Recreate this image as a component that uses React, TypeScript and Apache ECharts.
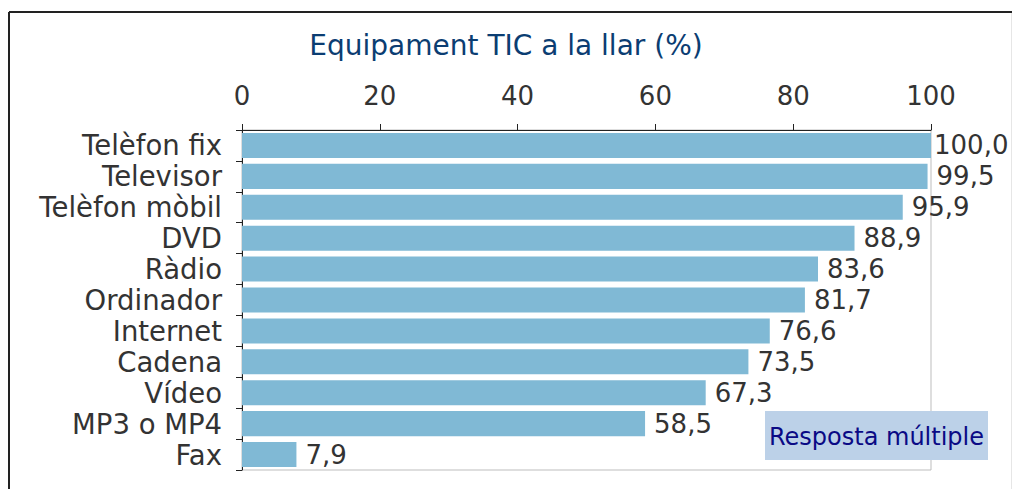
import React, { useEffect, useRef } from "react";
import * as echarts from "echarts";

const categories = [
  "Telèfon fix",
  "Televisor",
  "Telèfon mòbil",
  "DVD",
  "Ràdio",
  "Ordinador",
  "Internet",
  "Cadena",
  "Vídeo",
  "MP3 o MP4",
  "Fax",
];
const values = [100.0, 99.5, 95.9, 88.9, 83.6, 81.7, 76.6, 73.5, 67.3, 58.5, 7.9];
const titleText = "Equipament TIC a la llar (%)";
const noteText = "Resposta múltiple";

const FONT = "DejaVu Sans, Verdana, sans-serif";

export default function App() {
  const ref = useRef<HTMLDivElement>(null);
  useEffect(() => {
    document.body.style.margin = "0";
    if (!ref.current) return;
    const chart = echarts.init(ref.current, null, { renderer: "svg" });
    const barData = values.map((v) =>
      v >= 100 ? { value: v, label: { distance: 3 } } : { value: v }
    );
    chart.setOption({
      animation: false,
      backgroundColor: "#ffffff",
      title: {
        text: titleText,
        left: "center",
        top: 26,
        textStyle: { fontFamily: FONT, fontSize: 28, fontWeight: "normal", color: "#0b3d72" },
      },
      grid: {
        left: 242,
        right: 81,
        top: 130,
        bottom: 19,
        show: true,
        borderColor: "#bdbdbd",
        borderWidth: 1,
        backgroundColor: "transparent",
      },
      xAxis: {
        type: "value",
        position: "top",
        min: 0,
        max: 100,
        interval: 20,
        axisLine: { show: true, lineStyle: { color: "#222", width: 1 } },
        axisTick: { show: true, length: 6, lineStyle: { color: "#222" } },
        splitLine: { show: false },
        axisLabel: { fontFamily: FONT, fontSize: 26, color: "#333", margin: 21 },
      },
      yAxis: {
        type: "category",
        data: categories,
        inverse: true,
        axisLine: { show: true, lineStyle: { color: "#222", width: 1 } },
        axisTick: { show: true, length: 6, lineStyle: { color: "#222" } },
        axisLabel: { fontFamily: FONT, fontSize: 27.5, color: "#333", margin: 20, interval: 0 },
      },
      series: [
        {
          type: "bar",
          data: barData,
          barCategoryGap: "19%",
          itemStyle: { color: "#80b9d5" },
          label: {
            show: true,
            position: "right",
            distance: 9,
            fontFamily: FONT,
            fontSize: 26,
            color: "#333",
            formatter: (p: any) => Number(p.value).toFixed(1).replace(".", ","),
          },
        },
      ],
      graphic: [
        {
          type: "line",
          shape: { x1: 9, y1: 12, x2: 1012, y2: 12 },
          style: { stroke: "#222", lineWidth: 2 },
        },
        {
          type: "line",
          shape: { x1: 9, y1: 12, x2: 9, y2: 489 },
          style: { stroke: "#222", lineWidth: 2 },
        },
        {
          type: "line",
          shape: { x1: 1011.5, y1: 13, x2: 1011.5, y2: 489 },
          style: { stroke: "#e6e6e6", lineWidth: 1 },
        },
        {
          type: "rect",
          shape: { x: 765, y: 411, width: 223, height: 49 },
          style: { fill: "#bcd1e8" },
          z: 10,
        },
        {
          type: "text",
          x: 876.5,
          y: 437,
          style: {
            text: noteText,
            fontFamily: FONT,
            fontSize: 24,
            fill: "#0a0a85",
            align: "center",
            verticalAlign: "middle",
          },
          z: 11,
        },
      ],
    });
    return () => chart.dispose();
  }, []);
  return <div ref={ref} style={{ width: 1012, height: 489 }} />;
}
